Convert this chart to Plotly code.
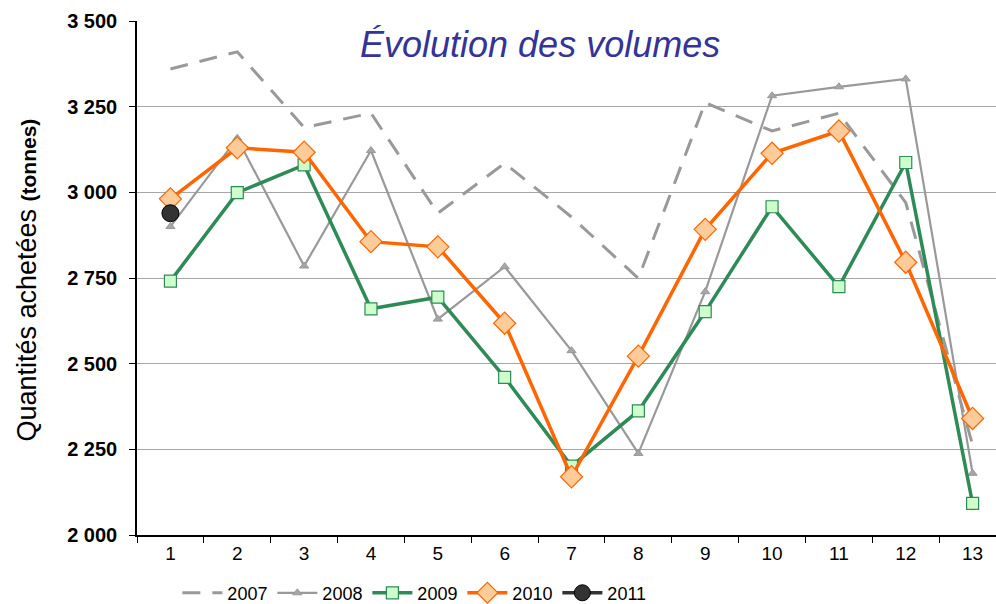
import plotly.graph_objects as go

# Periods (1..13) and purchased quantities per year, in tonnes
periods = list(range(1, 14))
vol_2007 = [3360, 3410, 3189, 3231, 2939, 3085, 2928, 2749, 3262, 3179, 3231, 2970, 2262]
vol_2008 = [2900, 3158, 2785, 3122, 2630, 2783, 2538, 2238, 2710, 3282, 3308, 3331, 2180]
vol_2009 = [2741, 2999, 3080, 2660, 2694, 2460, 2201, 2362, 2652, 2958, 2725, 3087, 2092]
vol_2010 = [2981, 3130, 3117, 2856, 2841, 2618, 2170, 2522, 2892, 3114, 3179, 2796, 2340]
vol_2011 = [2939]

y_ticks = [2000, 2250, 2500, 2750, 3000, 3250, 3500]
y_tick_text = ["2 000", "2 250", "2 500", "2 750", "3 000", "3 250", "3 500"]

fig = go.Figure()

fig.add_trace(go.Scatter(
    x=periods, y=vol_2007, name="2007", mode="lines",
    line=dict(color="#999999", width=3, dash="18px,12px"),
))
fig.add_trace(go.Scatter(
    x=periods, y=vol_2008, name="2008", mode="lines+markers",
    line=dict(color="#999999", width=2.2),
    marker=dict(symbol="triangle-up", size=8, color="#a6a6a6",
                line=dict(color="#999999", width=1)),
))
fig.add_trace(go.Scatter(
    x=periods, y=vol_2009, name="2009", mode="lines+markers",
    line=dict(color="#2e8b57", width=3.5),
    marker=dict(symbol="square", size=12, color="#ccffcc",
                line=dict(color="#2e8b57", width=1.2)),
))
fig.add_trace(go.Scatter(
    x=periods, y=vol_2010, name="2010", mode="lines+markers",
    line=dict(color="#ff6600", width=3.5),
    marker=dict(symbol="diamond", size=17, color="#ffcc99",
                line=dict(color="#ff6600", width=1.2)),
))
fig.add_trace(go.Scatter(
    x=periods[:len(vol_2011)], y=vol_2011, name="2011", mode="lines+markers",
    line=dict(color="#333333", width=3.5),
    marker=dict(symbol="circle", size=17, color="#333333",
                line=dict(color="#000000", width=1)),
))

fig.update_layout(
    width=996, height=604,
    margin=dict(l=137, r=0, t=21, b=69, autoexpand=False),
    paper_bgcolor="white", plot_bgcolor="white",
    font=dict(family="Liberation Sans, Arial, sans-serif", color="black"),
    showlegend=True,
    legend=dict(
        orientation="h", x=0.047, xanchor="left", y=-0.113, yanchor="middle",
        font=dict(size=18), entrywidth=40, entrywidthmode="pixels",
        itemwidth=40, bgcolor="rgba(0,0,0,0)",
    ),
)

fig.update_xaxes(
    range=[0.5, 13.35], tickmode="array", tickvals=periods,
    ticktext=[str(p) for p in periods], ticks="", tickfont=dict(size=19),
    showgrid=False, zeroline=False,
    showline=True, linecolor="black", linewidth=1.5,
    minor=dict(tick0=0.5, dtick=1, ticks="outside", ticklen=6,
               tickcolor="black", tickwidth=1.2, showgrid=False),
)
fig.update_yaxes(
    range=[2000, 3500], tickmode="array", tickvals=y_ticks,
    ticktext=["<b>%s</b>" % t for t in y_tick_text],
    ticks="outside", ticklen=6, tickcolor="black", tickwidth=1.2,
    tickfont=dict(size=20, family="Liberation Sans, Arial, sans-serif"),
    showgrid=True, gridcolor="#a6a6a6", gridwidth=1, zeroline=False,
    showline=True, linecolor="black", linewidth=1.5,
    ticklabelstandoff=8,
)

# Chart title inside the plotting area
fig.add_annotation(
    text="<i>Évolution des volumes</i>", xref="paper", yref="y",
    x=0.469, y=3432, xanchor="center", yanchor="middle", showarrow=False,
    font=dict(size=36, color="#333399", family="Liberation Sans, Arial, sans-serif"),
)

# Vertical axis title with the unit in bold
fig.add_annotation(
    text="Quantités achetées <b><span style='font-size:21px'>(tonnes)</span></b>",
    xref="paper", yref="paper", x=-0.128, y=0.495, textangle=-90,
    xanchor="center", yanchor="middle", showarrow=False,
    font=dict(size=27, color="black"),
)

fig.write_html("out.html")
